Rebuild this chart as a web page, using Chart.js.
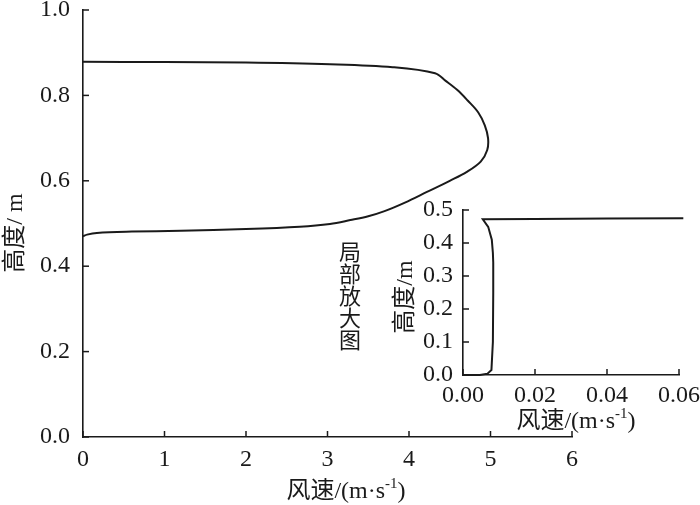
<!DOCTYPE html>
<html><head><meta charset="utf-8">
<script src="https://cdn.jsdelivr.net/npm/chart.js@4.4.0/dist/chart.umd.min.js"></script>
<style>
html,body{margin:0;padding:0;background:#fff;}
#wrap{position:relative;width:700px;height:505px;background:#fff;}
#main{position:absolute;left:0;top:0;}
#inset{position:absolute;left:380px;top:180px;}
</style></head><body>
<div id="wrap"><canvas id="main" width="700" height="505"></canvas><canvas id="inset" width="320" height="260"></canvas></div>
<script>
// ---- data ----
const mainSpeed  = [0.00, 0.05, 0.17, 0.60, 1.20, 2.00, 2.66, 3.03, 3.28, 3.50, 3.70, 3.95, 4.22, 4.50, 4.71, 4.88, 4.96, 4.97, 4.93, 4.85, 4.72, 4.59, 4.45, 4.32, 3.80, 3.03, 2.00, 1.00, 0.00];
const mainHeight = [0.470, 0.474, 0.478, 0.481, 0.483, 0.487, 0.4925, 0.499, 0.508, 0.517, 0.529, 0.549, 0.574, 0.600, 0.621, 0.645, 0.672, 0.700, 0.730, 0.760, 0.788, 0.813, 0.834, 0.852, 0.866, 0.873, 0.877, 0.878, 0.879];
const mainXTicks = [0, 1, 2, 3, 4, 5, 6];
const mainYTicks = [0, 0.2, 0.4, 0.6, 0.8, 1.0];

const insetSpeed  = [0.0000, 0.0047, 0.0068, 0.0079, 0.0083, 0.0084, 0.0084, 0.0083, 0.0080, 0.0070, 0.0055, 0.0200, 0.0400, 0.0612];
const insetHeight = [0.000, 0.000, 0.004, 0.015, 0.100, 0.250, 0.340, 0.370, 0.410, 0.449, 0.472, 0.473, 0.474, 0.475];
const insetXTicks = [0, 0.02, 0.04, 0.06];
const insetYTicks = [0, 0.1, 0.2, 0.3, 0.4, 0.5];

const mainXTitle  = ['风速/(m·s', '-1', ')'];
const mainYTitle  = '高度/ m';
const insetXTitle = ['风速/(m·s', '-1', ')'];
const insetYTitle = '高度/m';
const noteText = '局部放大图';

// ---- helpers ----
const INK = '#1a1a1a';
const FONT = '"Liberation Serif", "Times New Roman", "Noto Sans CJK SC", serif';

function drawRich(ctx, parts, cx, cy, angle) {
  ctx.save();
  ctx.translate(cx, cy);
  ctx.rotate(angle);
  ctx.fillStyle = INK;
  ctx.textBaseline = 'alphabetic';
  ctx.textAlign = 'left';
  let total = 0;
  const widths = parts.map(p => { ctx.font = p.size + 'px ' + FONT; const w = ctx.measureText(p.t).width; total += w; return w; });
  let x = -total / 2;
  parts.forEach((p, i) => {
    ctx.font = p.size + 'px ' + FONT;
    ctx.fillText(p.t, x, -(p.dy || 0));
    x += widths[i];
  });
  ctx.restore();
}

function inwardTicksPlugin(len) {
  return {
    id: 'inwardTicks',
    afterDraw(chart) {
      const ctx = chart.ctx;
      const xs = chart.scales.x, ys = chart.scales.y;
      ctx.save();
      ctx.strokeStyle = INK;
      ctx.lineWidth = 1.5;
      xs.ticks.forEach(t => {
        const p = xs.getPixelForValue(t.value);
        ctx.beginPath(); ctx.moveTo(p, xs.top); ctx.lineTo(p, xs.top - len); ctx.stroke();
      });
      ys.ticks.forEach(t => {
        const p = ys.getPixelForValue(t.value);
        ctx.beginPath(); ctx.moveTo(ys.right, p); ctx.lineTo(ys.right + len, p); ctx.stroke();
      });
      ctx.restore();
    }
  };
}

function makeScales(xmin, xmax, xticks, xdec, ymin, ymax, yticks, ydec, yWidth, xHeight, ypad, xpad, fsize) {
  return {
    x: {
      type: 'linear', min: xmin, max: xmax,
      afterBuildTicks: s => { s.ticks = xticks.map(v => ({ value: v })); },
      afterFit: s => { s.height = xHeight; s.paddingLeft = 0; s.paddingRight = 0; },
      grid: { display: false, drawTicks: false },
      border: { display: true, color: INK, width: 1.6 },
      ticks: { color: INK, padding: xpad, maxRotation: 0, autoSkip: false, font: { family: FONT, size: fsize }, callback: v => v.toFixed(xdec) }
    },
    y: {
      type: 'linear', min: ymin, max: ymax,
      afterBuildTicks: s => { s.ticks = yticks.map(v => ({ value: v })); },
      afterFit: s => { s.width = yWidth; s.paddingTop = 0; s.paddingBottom = 0; },
      grid: { display: false, drawTicks: false },
      border: { display: true, color: INK, width: 1.6 },
      ticks: { color: INK, padding: ypad, autoSkip: false, font: { family: FONT, size: fsize }, callback: v => v.toFixed(ydec) }
    }
  };
}

// ---- main chart ----
new Chart(document.getElementById('main'), {
  type: 'scatter',
  data: { datasets: [{
    data: mainSpeed.map((v, i) => ({ x: v, y: mainHeight[i] })),
    showLine: true, borderColor: INK, borderWidth: 2, pointRadius: 0, tension: 0.35, fill: false
  }]},
  options: {
    responsive: false, animation: false, devicePixelRatio: 1,
    layout: { padding: { left: 0, top: 10, right: 128, bottom: 0 } },
    plugins: { legend: { display: false }, tooltip: { enabled: false } },
    scales: makeScales(0, 6, mainXTicks, 0, 0, 1, mainYTicks, 1, 83, 68, 13, 8, 24)
  },
  plugins: [inwardTicksPlugin(6), {
    id: 'titles',
    afterDraw(chart) {
      const ctx = chart.ctx;
      drawRich(ctx, [{ t: mainXTitle[0], size: 24 }, { t: mainXTitle[1], size: 15, dy: 10 }, { t: mainXTitle[2], size: 24 }], 346, 498, 0);
      drawRich(ctx, [{ t: mainYTitle, size: 24 }], 22, 233, -Math.PI / 2);
      ctx.save();
      ctx.fillStyle = INK; ctx.font = '22px ' + FONT; ctx.textAlign = 'center'; ctx.textBaseline = 'middle';
      Array.from(noteText).forEach((c, i) => ctx.fillText(c, 350, 254 + i * 22));
      ctx.restore();
    }
  }]
});

// ---- inset chart ----
new Chart(document.getElementById('inset'), {
  type: 'scatter',
  data: { datasets: [{
    data: insetSpeed.map((v, i) => ({ x: v, y: insetHeight[i] })),
    showLine: true, borderColor: INK, borderWidth: 2, pointRadius: 0, tension: 0, fill: false, clip: false
  }]},
  options: {
    responsive: false, animation: false, devicePixelRatio: 1,
    layout: { padding: { left: 0, top: 30, right: 21, bottom: 0 } },
    plugins: { legend: { display: false }, tooltip: { enabled: false } },
    scales: makeScales(0, 0.06, insetXTicks, 2, 0, 0.5, insetYTicks, 1, 83, 65, 10, 6, 24)
  },
  plugins: [inwardTicksPlugin(6), {
    id: 'titles',
    afterDraw(chart) {
      const ctx = chart.ctx;
      drawRich(ctx, [{ t: insetXTitle[0], size: 24 }, { t: insetXTitle[1], size: 15, dy: 10 }, { t: insetXTitle[2], size: 24 }], 196, 248, 0);
      drawRich(ctx, [{ t: insetYTitle, size: 24 }], 32, 117, -Math.PI / 2);
    }
  }]
});
</script>
</body></html>
